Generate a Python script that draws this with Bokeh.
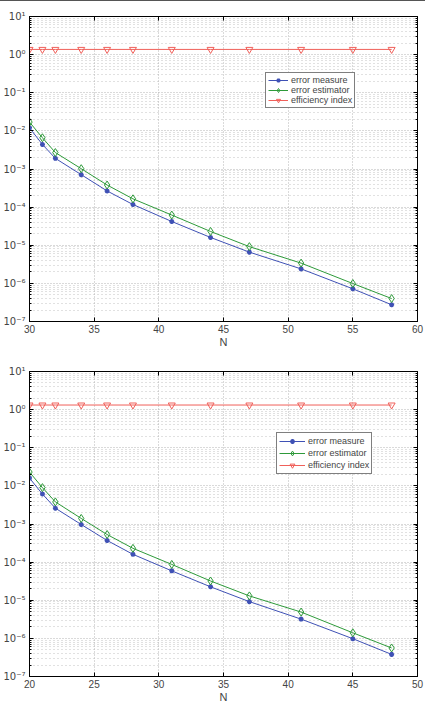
from bokeh.plotting import figure
from bokeh.models import (LogAxis, LinearAxis, FixedTicker, CustomJSTickFormatter,
                          Legend, LegendItem, Range1d, Div)
from bokeh.layouts import column
from bokeh.embed import file_html
from bokeh.resources import INLINE

# ---------------- data ----------------
n_top = [30, 31, 32, 34, 36, 38, 41, 44, 47, 51, 55, 58]
measure_top = [1.2e-2, 4.4e-3, 1.9e-3, 7.1e-4, 2.66e-4, 1.17e-4, 4.2e-5, 1.6e-5,
               6.6e-6, 2.4e-6, 7.2e-7, 2.75e-7]
estimator_top = [1.7e-2, 6.6e-3, 2.7e-3, 1.02e-3, 3.8e-4, 1.65e-4, 6.2e-5, 2.3e-5,
                 9.2e-6, 3.4e-6, 9.9e-7, 4.0e-7]
eff_top = [1.37] * 12

n_bot = [20, 21, 22, 24, 26, 28, 31, 34, 37, 41, 45, 48]
measure_bot = [1.6e-2, 6.1e-3, 2.6e-3, 9.7e-4, 3.7e-4, 1.6e-4, 5.9e-5, 2.25e-5,
               9.2e-6, 3.2e-6, 9.8e-7, 3.8e-7]
estimator_bot = [2.3e-2, 9.0e-3, 3.8e-3, 1.4e-3, 5.3e-4, 2.3e-4, 8.7e-5, 3.2e-5,
                 1.3e-5, 4.9e-6, 1.4e-6, 5.6e-7]
eff_bot = [1.32] * 12

labels = ["error measure", "error estimator", "efficiency index"]
y_decades = [-7, -6, -5, -4, -3, -2, -1, 0, 1]

BLUE = "#3f51b5"
GREEN = "#2e9a3a"
RED = "#f0605a"
FONT = "Liberation Sans"
GRID = "#b4b4b4"

y_major = [10.0 ** e for e in y_decades]
y_minor = [m * 10.0 ** e for e in y_decades[:-1] for m in range(2, 10)]

sup_fmt = CustomJSTickFormatter(code="""
const e = Math.round(Math.log10(tick));
const sup = {'-':'\u207b','0':'\u2070','1':'\u00b9','2':'\u00b2','3':'\u00b3','4':'\u2074','5':'\u2075','6':'\u2076','7':'\u2077','8':'\u2078','9':'\u2079'};
return '10' + String(e).split('').map(c => sup[c]).join('');
""")
blank_fmt = CustomJSTickFormatter(code="return '';")


def make(ns, meas, est, eff, xr, height, top, bottom, legend_loc, leg_spacing, glyph_w):
    p = figure(width=425, height=height, y_axis_type="log",
               x_range=Range1d(*xr), y_range=Range1d(1e-7, 1e1),
               output_backend="svg", toolbar_location=None,
               min_border_left=29, min_border_right=8,
               min_border_top=top, min_border_bottom=bottom)
    p.outline_line_color = "black"
    p.outline_line_width = 1
    p.background_fill_color = "white"
    p.border_fill_color = "white"

    xt = FixedTicker(ticks=list(range(xr[0], xr[1] + 1, 5)))
    yt = FixedTicker(ticks=y_major, minor_ticks=y_minor)

    xa = p.xaxis[0]
    xa.ticker = xt
    xa.axis_label = "N"
    xa.axis_label_text_font = FONT
    xa.axis_label_text_font_style = "normal"
    xa.axis_label_text_font_size = "11px"
    xa.axis_label_standoff = 0
    xa.major_label_text_font = FONT
    xa.major_label_text_font_size = "10px"
    xa.major_label_standoff = 3

    ya = p.yaxis[0]
    ya.ticker = yt
    ya.formatter = sup_fmt
    ya.major_label_text_font = "DejaVu Sans"
    ya.major_label_text_font_size = "10px"
    ya.major_label_standoff = 4

    ra = LogAxis(ticker=yt, formatter=blank_fmt, major_label_standoff=0,
                 major_label_text_font_size="0px")
    ta = LinearAxis(ticker=xt, formatter=blank_fmt, major_label_standoff=0,
                    major_label_text_font_size="0px")
    p.add_layout(ra, "right")
    p.add_layout(ta, "above")

    for ax in [xa, ya, ra, ta]:
        ax.axis_line_color = "black"
        ax.major_tick_in = 4
        ax.major_tick_out = 0
        ax.minor_tick_in = 2
        ax.minor_tick_out = 0
        ax.major_tick_line_color = "black"
        ax.minor_tick_line_color = "black"
    xa.minor_tick_line_color = None
    ta.minor_tick_line_color = None

    p.xgrid.ticker = xt
    p.ygrid.ticker = yt
    for g in [p.xgrid[0], p.ygrid[0]]:
        g.grid_line_color = GRID
        g.grid_line_dash = "1 2"
        g.grid_line_width = 1
    p.ygrid.minor_grid_line_color = GRID
    p.ygrid.minor_grid_line_dash = "1 3"
    p.ygrid.minor_grid_line_alpha = 0.8

    l1 = p.line(ns, meas, color=BLUE, line_width=1)
    m1 = p.scatter(ns, meas, marker="asterisk", size=5, line_color=BLUE, line_width=1.5)
    l2 = p.line(ns, est, color=GREEN, line_width=1)
    m2 = p.scatter(ns, est, marker="diamond", size=8, line_color=GREEN,
                   fill_color=None, line_width=1)
    l3 = p.line(ns, eff, color=RED, line_width=1)
    m3 = p.scatter(ns, eff, marker="inverted_triangle", size=7, line_color=RED,
                   fill_color=None, line_width=1)

    leg = Legend(items=[LegendItem(label=labels[0], renderers=[l1, m1]),
                        LegendItem(label=labels[1], renderers=[l2, m2]),
                        LegendItem(label=labels[2], renderers=[l3, m3])],
                 location=legend_loc)
    leg.label_text_font = FONT
    leg.label_text_font_size = "9px"
    leg.border_line_color = "black"
    leg.border_line_width = 1
    leg.background_fill_color = "white"
    leg.background_fill_alpha = 1
    leg.glyph_width = glyph_w
    leg.glyph_height = leg_spacing
    leg.label_height = leg_spacing
    leg.spacing = 0
    leg.padding = 2
    leg.margin = 0
    leg.label_standoff = 3
    leg.label_text_line_height = 1.0
    p.add_layout(leg, "center")
    return p


rule = Div(width=425, height=2, styles={"border-top": "1px solid #555", "margin": "0"})
p1 = make(n_top, measure_top, estimator_top, eff_top, (30, 60), 348, 14, 28,
          (236, 213), 10, 20)
p2 = make(n_bot, measure_bot, estimator_bot, eff_bot, (20, 50), 355, 21, 27,
          (247, 202), 12, 26)

layout = column(rule, p1, p2, spacing=0)
open("out.html", "w").write(file_html(layout, INLINE))
